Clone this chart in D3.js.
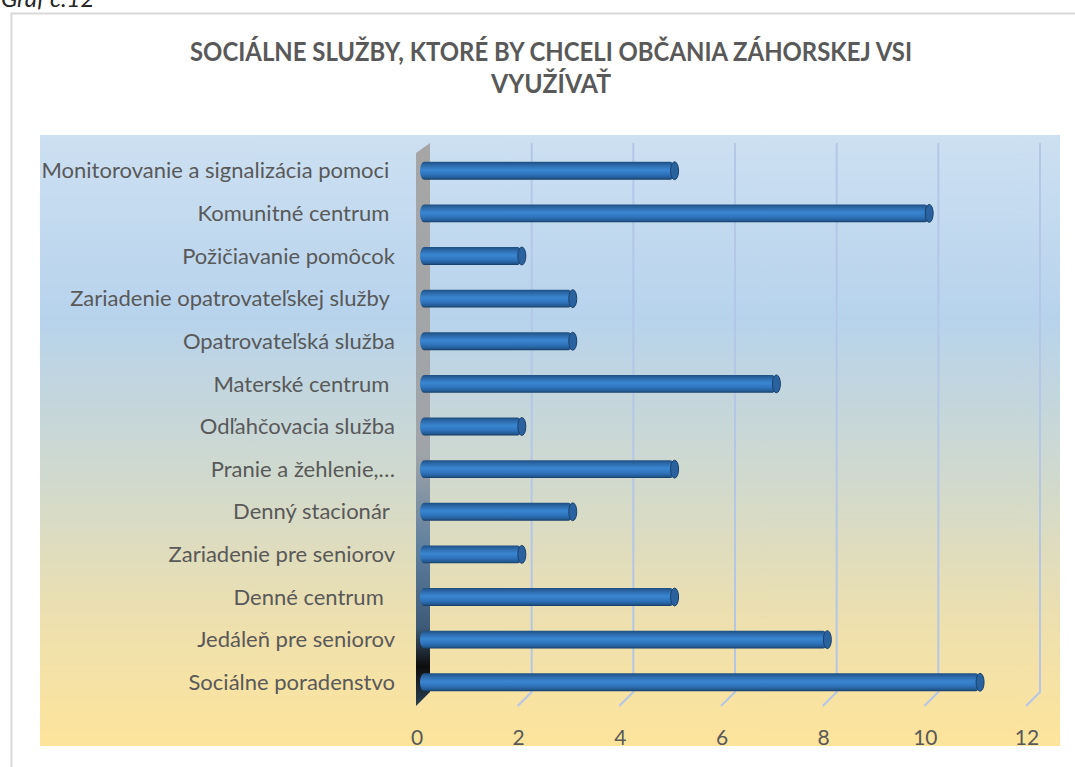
<!DOCTYPE html>
<html lang="sk">
<head>
<meta charset="UTF-8">
<title>Sociálne služby</title>
<script src="https://d3js.org/d3.v7.min.js"></script>
<style>
    html, body {
        margin: 0;
        padding: 0;
        background: #ffffff;
        overflow: hidden;
    }
    svg {
        display: block;
        font-family: Lato, "Open Sans", sans-serif;
    }
</style>
</head>
<body>
<svg id="chart" width="1075" height="767"></svg>
<script>
    // categories top to bottom, as they appear in the chart
    const categories = [
        "Monitorovanie a signalizácia pomoci ",
        "Komunitné centrum ",
        "Požičiavanie pomôcok",
        "Zariadenie opatrovateľskej služby ",
        "Opatrovateľská služba",
        "Materské centrum ",
        "Odľahčovacia služba",
        "Pranie a žehlenie,…",
        "Denný stacionár ",
        "Zariadenie pre seniorov",
        "Denné centrum  ",
        "Jedáleň pre seniorov",
        "Sociálne poradenstvo"
    ];
    const values = [5, 10, 2, 3, 3, 7, 2, 5, 3, 2, 5, 8, 11];
    const tickValues = [0, 2, 4, 6, 8, 10, 12];
    const titleLines = ["SOCIÁLNE SLUŽBY, KTORÉ BY CHCELI OBČANIA ZÁHORSKEJ VSI", "VYUŽÍVAŤ"];

    const svg = d3.select("#chart");
    const depth = 14; // 3d depth offset of the floor/wall

    // scales: back plane, bar plane and front plane
    const xBack = d3.scaleLinear().domain([0, 12]).range([430, 1040]);
    const xBar = d3.scaleLinear().domain([0, 12]).range([422, 1033]);
    const xFront = d3.scaleLinear().domain([0, 12]).range([416, 1026]);
    const y = d3.scaleBand().domain(categories).range([149, 704]).paddingInner(0.58).paddingOuter(0.3);

    const defs = svg.append("defs");

    const bg = defs.append("linearGradient").attr("id", "bg")
        .attr("x1", 0).attr("y1", 0).attr("x2", 0).attr("y2", 1);
    [["0", "#cde0f2"], ["0.3", "#b7d3ec"], ["0.55", "#cfd9cf"], ["0.8", "#eee0ae"], ["1", "#fde49b"]]
        .forEach(s => bg.append("stop").attr("offset", s[0]).attr("stop-color", s[1]));

    const cyl = defs.append("linearGradient").attr("id", "cyl")
        .attr("x1", 0).attr("y1", 0).attr("x2", 0).attr("y2", 1);
    [["0", "#1f4f80"], ["0.18", "#2c68a8"], ["0.45", "#3a86d1"], ["0.72", "#2e72ba"], ["0.9", "#235a93"], ["1", "#163a60"]]
        .forEach(s => cyl.append("stop").attr("offset", s[0]).attr("stop-color", s[1]));

    const wall = defs.append("linearGradient").attr("id", "wall")
        .attr("x1", 0).attr("y1", 0).attr("x2", 0).attr("y2", 1);
    [["0", "#a6a6a6"], ["0.55", "#a0a4a8"], ["0.72", "#5f7f9e"], ["0.86", "#3d5a78"], ["0.93", "#0d0d0d"], ["1", "#2b3f55"]]
        .forEach(s => wall.append("stop").attr("offset", s[0]).attr("stop-color", s[1]));

    // outer chart frame
    svg.append("rect")
        .attr("x", 11.5).attr("y", 13.5)
        .attr("width", 1100).attr("height", 800)
        .attr("fill", "#ffffff")
        .attr("stroke", "#d9d9d9")
        .attr("stroke-width", 2);

    // caption above the frame, its top is cut off like in the source
    svg.append("text")
        .attr("x", 1).attr("y", 7)
        .attr("font-size", 24)
        .attr("font-style", "italic")
        .attr("fill", "#262626")
        .text("Graf č.12");

    // plot area background
    svg.append("rect")
        .attr("x", 40).attr("y", 135)
        .attr("width", 1020).attr("height", 611)
        .attr("fill", "url(#bg)");

    // title
    svg.append("g").selectAll("text")
        .data(titleLines)
        .enter().append("text")
        .attr("x", 551)
        .attr("y", (d, i) => 61 + i * 32)
        .attr("text-anchor", "middle")
        .attr("font-size", 26)
        .attr("font-weight", "bold")
        .attr("fill", "#595959")
        .attr("textLength", (d, i) => i === 0 ? 722 : 120)
        .attr("lengthAdjust", "spacingAndGlyphs")
        .text(d => d);

    const gridTop = 143, gridBottom = 692;

    // gridlines: vertical on back wall, then diagonal down across the floor
    svg.append("g").selectAll("path")
        .data(tickValues)
        .enter().append("path")
        .attr("d", d => `M${xBack(d)},${gridTop} L${xBack(d)},${gridBottom} L${xFront(d)},${gridBottom + depth}`)
        .attr("fill", "none")
        .attr("stroke", d => d === 0 ? "none" : "#b4c7e7")
        .attr("stroke-width", 2);

    // side wall at zero
    svg.append("path")
        .attr("d", `M${xFront(0)},${gridTop + 10} L${xBack(0)},${gridTop} L${xBack(0)},${gridBottom} L${xFront(0)},${gridBottom + depth} Z`)
        .attr("fill", "url(#wall)");

    // bars as cylinders
    const bars = svg.append("g").selectAll("g")
        .data(categories.map((c, i) => ({ c, v: values[i] })))
        .enter().append("g");

    bars.append("rect")
        .attr("x", xBar(0) - 2)
        .attr("y", d => y(d.c))
        .attr("width", d => xBar(d.v) - xBar(0))
        .attr("height", y.bandwidth())
        .attr("rx", 4).attr("ry", y.bandwidth() / 2)
        .attr("fill", "url(#cyl)");

    bars.append("ellipse")
        .attr("cx", d => xBar(d.v) - 2)
        .attr("cy", d => y(d.c) + y.bandwidth() / 2)
        .attr("rx", 4)
        .attr("ry", y.bandwidth() / 2)
        .attr("fill", "#2a62a0")
        .attr("stroke", "#1a416b")
        .attr("stroke-width", 1);

    // category labels
    svg.append("g").selectAll("text")
        .data(categories)
        .enter().append("text")
        .attr("x", 395)
        .attr("y", d => y(d) + y.bandwidth() / 2)
        .attr("dy", "0.35em")
        .attr("text-anchor", "end")
        .attr("font-size", 22)
        .attr("fill", "#595959")
        .style("white-space", "pre")
        .text(d => d);

    // value axis labels
    svg.append("g").selectAll("text")
        .data(tickValues)
        .enter().append("text")
        .attr("x", d => xFront(d) + 1)
        .attr("y", 738)
        .attr("dy", "0.35em")
        .attr("text-anchor", "middle")
        .attr("font-size", 21)
        .attr("fill", "#595959")
        .text(d => d);
</script>
</body>
</html>
